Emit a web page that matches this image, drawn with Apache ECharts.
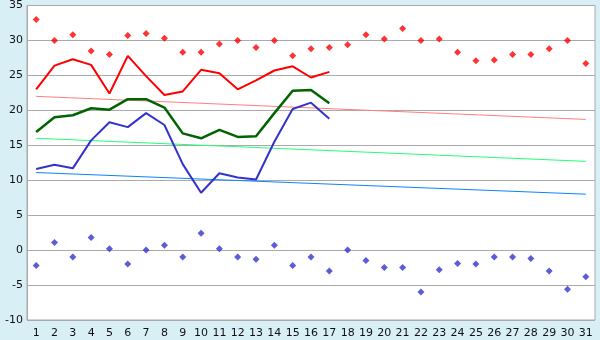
<!DOCTYPE html>
<html><head><meta charset="utf-8">
<script src="https://cdn.jsdelivr.net/npm/echarts@6/dist/echarts.min.js"></script>
<style>html,body{margin:0;padding:0;background:#d9eff6;}#c{width:600px;height:340px;}</style>
</head><body><div id="c"></div>
<script>
const days = ['1','2','3','4','5','6','7','8','9','10','11','12','13','14','15','16','17','18','19','20','21','22','23','24','25','26','27','28','29','30','31'];
const recordHigh = [33.0,30.0,30.8,28.5,28.0,30.7,31.0,30.3,28.3,28.3,29.5,30.0,29.0,30.0,27.8,28.8,29.0,29.4,30.8,30.2,31.7,30.0,30.2,28.3,27.1,27.2,28.0,28.0,28.8,30.0,26.7];
const recordLow = [-2.2,1.1,-1.0,1.8,0.2,-2.0,0.0,0.7,-1.0,2.4,0.2,-1.0,-1.3,0.7,-2.2,-1.0,-3.0,0.0,-1.5,-2.5,-2.5,-6.0,-2.8,-1.9,-2.0,-1.0,-1.0,-1.2,-3.0,-5.6,-3.8];
const tMax = [23.0,26.4,27.3,26.5,22.4,27.8,24.9,22.2,22.7,25.8,25.3,23.0,24.3,25.7,26.3,24.7,25.5];
const tMean = [16.9,19.0,19.3,20.3,20.1,21.6,21.6,20.4,16.7,16.0,17.2,16.2,16.3,19.6,22.8,22.9,21.0];
const tMin = [11.6,12.2,11.7,15.7,18.3,17.6,19.6,17.9,12.3,8.2,11.0,10.4,10.1,15.5,20.2,21.1,18.8];
const trendMax = [['1',22.0],['31',18.7]];
const trendMean = [['1',16.0],['31',12.7]];
const trendMin = [['1',11.1],['31',8.0]];
const yTicks = {min:-10, max:35, interval:5};

const chart = echarts.init(document.getElementById('c'), null, {renderer:'canvas'});
const font = 'DejaVu Sans';
const line = (data, color, w, z) => ({type:'line', data, symbol:'none', lineStyle:{color, width:w}, itemStyle:{color}, z, silent:true});
chart.setOption({
  animation:false,
  backgroundColor:'#d9eff6',
  grid:{left:27, right:5, top:5, bottom:20, show:true, backgroundColor:'#ffffff', borderColor:'#aaaaaa', borderWidth:1},
  xAxis:{type:'category', data:days, boundaryGap:true,
    axisLine:{lineStyle:{color:'#aaaaaa'}},
    axisTick:{alignWithLabel:true, length:5, lineStyle:{color:'#3a4a8a'}},
    axisLabel:{color:'#111', fontFamily:font, fontSize:11, margin:8, interval:0}},
  yAxis:{type:'value', min:yTicks.min, max:yTicks.max, interval:yTicks.interval,
    axisLine:{show:true, lineStyle:{color:'#aaaaaa'}},
    axisTick:{show:false},
    splitLine:{lineStyle:{color:'#aaaaaa', width:1}},
    axisLabel:{color:'#111', fontFamily:font, fontSize:11, margin:4}},
  series:[
    line(trendMax, '#ff8080', 1, 1),
    line(trendMean, '#22ff77', 1, 1),
    line(trendMin, '#0a84ff', 1, 1),
    line(tMax, '#ff0000', 2, 3),
    line(tMean, '#006400', 2.5, 3),
    line(tMin, '#3333cc', 2, 3),
    {type:'scatter', data:recordHigh, symbol:'diamond', symbolSize:7, itemStyle:{color:'#ff0000'}, z:4},
    {type:'scatter', data:recordLow, symbol:'diamond', symbolSize:7, itemStyle:{color:'#3333cc'}, z:4}
  ]
});
</script></body></html>
